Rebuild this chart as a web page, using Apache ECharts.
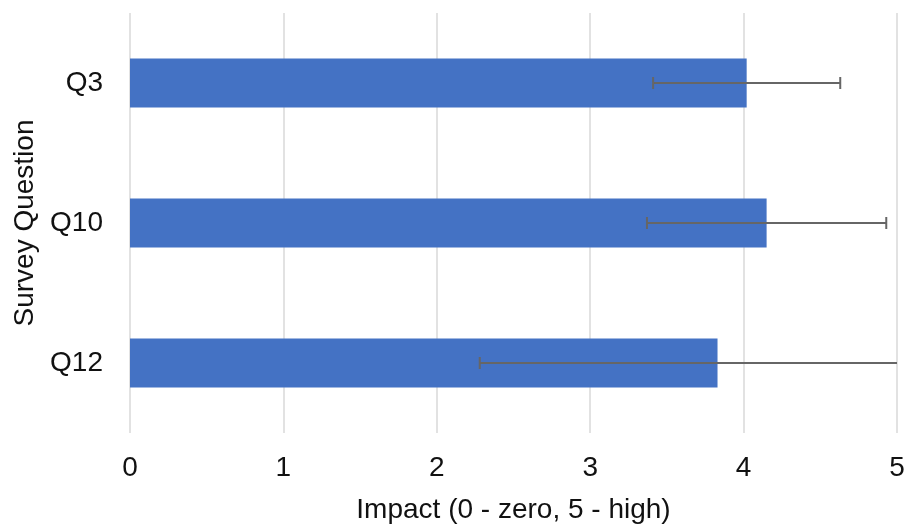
<!DOCTYPE html>
<html>
<head>
<meta charset="utf-8">
<style>html,body{margin:0;padding:0;background:#fff}#c{width:907px;height:524px}</style>
<script src="https://cdn.jsdelivr.net/npm/echarts@6/dist/echarts.min.js"></script>
</head>
<body>
<div id="c"></div>
<script>
const categories = ['Q3', 'Q10', 'Q12'];
const impact = [4.02, 4.15, 3.83];
const errorMargin = [0.61, 0.78, 1.55];
const xTicks = [0, 1, 2, 3, 4, 5];

const FONT = "'Liberation Sans', Arial, sans-serif";
const TXT = '#111';
const chart = echarts.init(document.getElementById('c'));
const errData = categories.map((c, i) => [i, impact[i] - errorMargin[i], impact[i] + errorMargin[i]]);

chart.setOption({
  animation: false,
  grid: { left: 130, right: 10, top: 13, bottom: 91, containLabel: false, outerBoundsMode: 'none' },
  xAxis: {
    type: 'value', min: xTicks[0], max: xTicks[xTicks.length - 1], interval: 1,
    name: 'Impact (0 - zero, 5 - high)', nameLocation: 'middle', nameGap: 63,
    nameTextStyle: { fontSize: 28, color: TXT, fontFamily: FONT },
    axisLine: { show: false }, axisTick: { show: false },
    axisLabel: { fontSize: 28, color: TXT, fontFamily: FONT, margin: 21 },
    splitLine: { show: true, lineStyle: { color: '#d9d9d9', width: 1.5 } }
  },
  yAxis: {
    type: 'category', data: categories, inverse: true,
    name: 'Survey Question', nameLocation: 'middle', nameGap: 86,
    nameTextStyle: { fontSize: 28, color: TXT, fontFamily: FONT },
    axisLine: { show: false }, axisTick: { show: false },
    axisLabel: { fontSize: 28, color: TXT, fontFamily: FONT, margin: 27 },
    splitLine: { show: false }
  },
  series: [
    {
      type: 'bar', data: impact, barWidth: '35%',
      itemStyle: { color: '#4472C4' }
    },
    {
      type: 'custom', data: errData, z: 10,
      encode: { y: 0, x: [1, 2] },
      renderItem: function (params, api) {
        const idx = api.value(0);
        const lo = api.coord([api.value(1), idx]);
        const hi = api.coord([api.value(2), idx]);
        const cs = params.coordSys;
        const xMin = cs.x, xMax = cs.x + cs.width;
        const x1 = Math.max(lo[0], xMin), x2 = Math.min(hi[0], xMax);
        const y = lo[1];
        const h = 6;
        const style = { stroke: '#666', lineWidth: 2 };
        const children = [
          { type: 'line', shape: { x1: x1, y1: y, x2: x2, y2: y }, style: style }
        ];
        if (lo[0] >= xMin) children.push({ type: 'line', shape: { x1: lo[0], y1: y - h, x2: lo[0], y2: y + h }, style: style });
        if (hi[0] <= xMax) children.push({ type: 'line', shape: { x1: hi[0], y1: y - h, x2: hi[0], y2: y + h }, style: style });
        return { type: 'group', children: children };
      }
    }
  ]
});
</script>
</body>
</html>
